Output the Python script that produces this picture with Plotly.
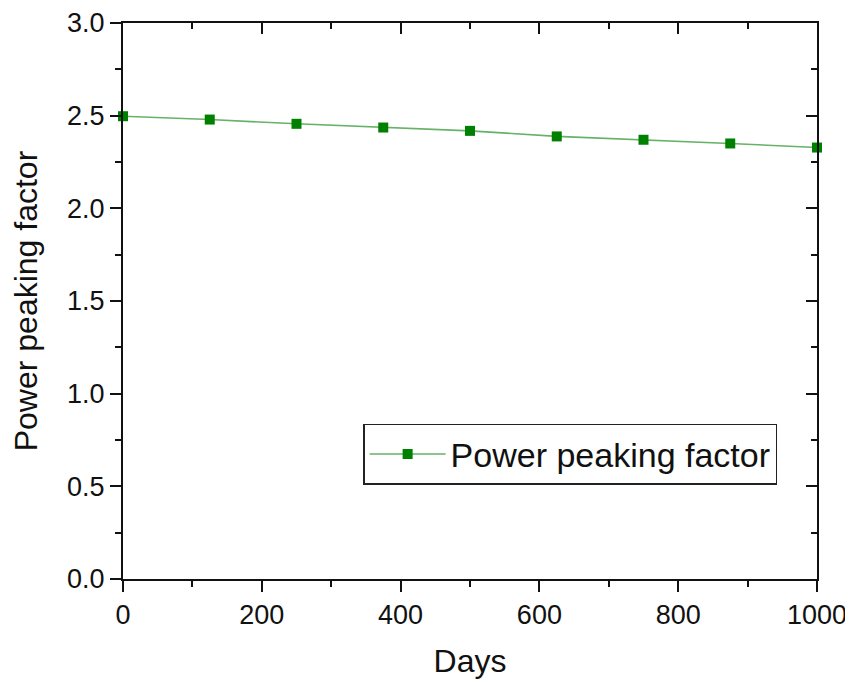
import plotly.graph_objects as go

days = [0, 125, 250, 375, 500, 625, 750, 875, 1000]
ppf = [2.497, 2.479, 2.456, 2.436, 2.418, 2.388, 2.370, 2.350, 2.328]

series_name = "Power peaking factor"
x_title = "Days"
y_title = "Power peaking factor"

tick_font = dict(family="Liberation Sans, Arial, sans-serif", size=27, color="#111")
title_font = dict(family="Liberation Sans, Arial, sans-serif", size=32, color="#111")

fig = go.Figure()
fig.add_trace(go.Scatter(
    x=days, y=ppf, mode="lines+markers", name=series_name,
    line=dict(color="#66b266", width=1.6),
    marker=dict(symbol="square", size=10, color="#008000"),
    cliponaxis=False,
))
fig.add_trace(go.Scatter(x=days, y=ppf, xaxis="x2", yaxis="y2", mode="lines",
                         line=dict(width=0), opacity=0, showlegend=False, hoverinfo="skip"))

common_axis = dict(showline=True, linecolor="#111", linewidth=2, showgrid=False, zeroline=False,
                   ticks="outside", ticklen=11, tickwidth=2, tickcolor="#111",
                   tickfont=tick_font, automargin=False)

fig.update_layout(
    width=845, height=675,
    margin=dict(l=115, r=36, t=15, b=104),
    paper_bgcolor="white", plot_bgcolor="white",
    xaxis=dict(range=[0, 1000], tick0=0, dtick=200, title=dict(text=x_title, font=title_font, standoff=20),
               minor=dict(dtick=100, ticklen=6, tickwidth=2, tickcolor="#111", ticks="outside"),
               **common_axis),
    yaxis=dict(range=[0, 3.0], tick0=0, dtick=0.5, tickformat=".1f",
               title=dict(text=y_title, font=title_font, standoff=20),
               minor=dict(dtick=0.25, ticklen=6, tickwidth=2, tickcolor="#111", ticks="outside"),
               **common_axis),
    xaxis2=dict(overlaying="x", side="top", range=[0, 1000], tick0=0, dtick=200, automargin=False,
                showline=True, linecolor="#111", linewidth=2, showgrid=False, zeroline=False,
                ticks="inside", ticklen=11, tickwidth=2, tickcolor="#111", showticklabels=False,
                minor=dict(dtick=100, ticklen=6, tickwidth=2, tickcolor="#111", ticks="inside")),
    yaxis2=dict(overlaying="y", side="right", range=[0, 3.0], tick0=0, dtick=0.5, automargin=False,
                showline=True, linecolor="#111", linewidth=2, showgrid=False, zeroline=False,
                ticks="inside", ticklen=11, tickwidth=2, tickcolor="#111", showticklabels=False,
                minor=dict(dtick=0.25, ticklen=6, tickwidth=2, tickcolor="#111", ticks="inside")),
    legend=dict(x=0.346, y=0.279, xanchor="left", yanchor="top",
                bgcolor="white", bordercolor="#222", borderwidth=1.5,
                font=dict(family="Liberation Sans, Arial, sans-serif", size=34, color="#111"),
                itemwidth=76),
    showlegend=True,
)

fig.write_html("out.html")
